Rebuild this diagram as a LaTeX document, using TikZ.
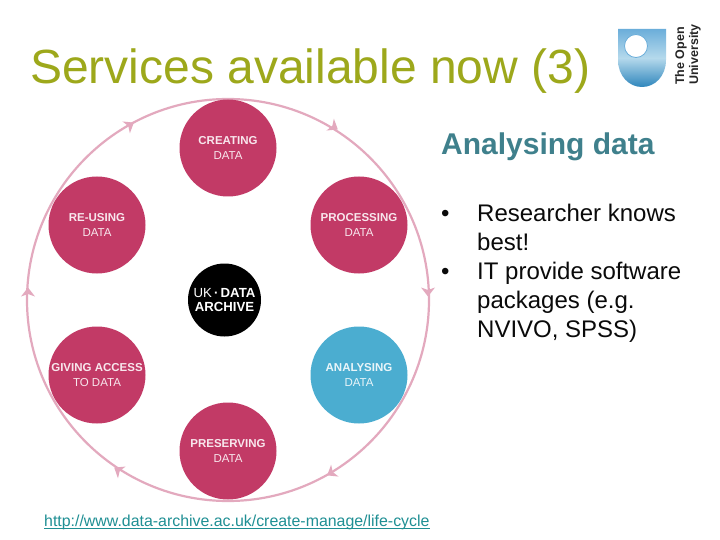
\documentclass[tikz,border=0pt]{standalone}
\usepackage{fontspec}
\setmainfont{Liberation Sans}
\definecolor{crimson}{HTML}{C23A66}
\definecolor{skyb}{HTML}{4BADD0}
\definecolor{ringc}{HTML}{E3A9BE}
\definecolor{titlec}{HTML}{9DA81B}
\definecolor{headc}{HTML}{3F808C}
\definecolor{linkc}{HTML}{1F8F94}
\definecolor{bodyc}{HTML}{0A0A0A}
\definecolor{shieldA}{HTML}{2F86BC}
\definecolor{shieldB}{HTML}{B5D9EC}
\definecolor{shieldC}{HTML}{6BAEDA}
\tikzset{
  x=1pt,y=-1pt,
  stage/.style={circle,fill=#1,minimum size=97pt,inner sep=0pt,text=white!88!#1,align=center,font=\fontsize{11.5}{14.5}\selectfont},
  hub/.style={circle,fill=black,minimum size=73pt,inner sep=0pt,text=white,align=center,font=\fontsize{13.2}{14.5}\selectfont},
  tip/.style={fill=ringc},
  bodytext/.style={anchor=base west,text=bodyc,font=\fontsize{24}{28}\selectfont,inner sep=0pt},
}
\newcommand{\ringtip}[2]{\fill[tip,shift={#1},rotate=#2] (4.5,0) -- (-4.5,-7) -- (-2,0) -- (-4.5,7) -- cycle;}
\begin{document}
\begin{tikzpicture}
\useasboundingbox (0,0) rectangle (720,540);
\fill[white] (0,0) rectangle (720,540);
\node[anchor=base west,inner sep=0pt,text=titlec,font=\fontsize{48}{48}\selectfont] (title) at (30,84) {Services available now (3)};
% ring
\node[circle,draw=ringc,line width=2.2pt,minimum size=402pt,inner sep=0pt] (ring) at (228,300) {};
\ringtip{(130,125)}{32}
\ringtip{(334,127)}{-32}
\ringtip{(428,292)}{-90}
\ringtip{(331,473)}{-148}
\ringtip{(118,470)}{147}
\ringtip{(28,292)}{90}
% stages
\node[stage=crimson] (creating) at (228,148) {\textbf{CREATING}\\DATA};
\node[stage=crimson] (processing) at (359,225) {\textbf{PROCESSING}\\DATA};
\node[stage=skyb] (analysing) at (359,375) {\textbf{ANALYSING}\\DATA};
\node[stage=crimson] (preserving) at (228,451) {\textbf{PRESERVING}\\DATA};
\node[stage=crimson] (giving) at (97,375) {\textbf{GIVING ACCESS}\\TO DATA};
\node[stage=crimson] (reusing) at (97,225) {\textbf{RE-USING}\\DATA};
\node[hub] (hub) at (224.5,300) {UK\,\textbf{·\,DATA}\\\textbf{ARCHIVE}};
% right column
\node[anchor=base west,inner sep=0pt,text=headc,font=\bfseries\fontsize{30}{30}\selectfont] (head) at (441,155) {Analysing data};
\node[bodytext] (b1) at (441,222) {•};
\node[bodytext] (b2) at (441,279) {•};
\node[bodytext] (l1) at (477,222) {Researcher knows};
\node[bodytext] (l2) at (477,251) {best!};
\node[bodytext] (l3) at (477,279) {IT provide software};
\node[bodytext] (l4) at (477,308) {packages (e.g.};
\node[bodytext] (l5) at (477,337) {NVIVO, SPSS)};
% link
\node[anchor=base west,inner sep=0pt,text=linkc,font=\fontsize{15.9}{16}\selectfont] (link) at (44,526) {http://www.data-archive.ac.uk/create-manage/life-cycle};
\draw[linkc,line width=0.9pt] (44,528) -- (430,528);
% logo
\shade[top color=shieldC,bottom color=shieldA,middle color=shieldB]
 (618,29) -- (666,29) -- (666,60) .. controls (666,76) and (655,87) .. (642,87) .. controls (629,87) and (618,76) .. (618,60) -- cycle;
\fill[white,draw=shieldC,line width=0.8pt] (636,46) circle (11.5);
\node[rotate=90,anchor=base west,inner sep=0pt,font=\bfseries\fontsize{12.5}{14}\selectfont,text=black!85] (open) at (684,85) {The Open};
\node[rotate=90,anchor=base west,inner sep=0pt,font=\bfseries\fontsize{12.5}{14}\selectfont,text=black!85] (univ) at (698,85) {University};
\end{tikzpicture}
\end{document}
